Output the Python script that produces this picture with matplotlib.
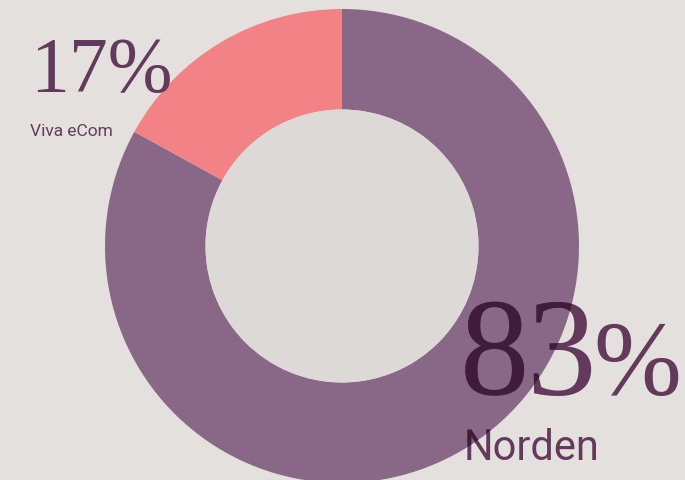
import matplotlib.pyplot as plt
from matplotlib.patches import Circle, PathPatch
from matplotlib.textpath import TextPath
from matplotlib.font_manager import FontProperties

# data
labels = ['Norden', 'Viva eCom']
shares = [83, 17]
colors = ['#886886', '#f28286']

bg = '#e4e0dd'
hole = '#ddd9d6'
txt = '#633a5c'
txt_dark = '#3e1c3a'

fig = plt.figure(figsize=(6.85, 4.81), dpi=100)
fig.patch.set_facecolor(bg)
ax = fig.add_axes([0, 0, 1, 1])

cx, cy = 342, 481 - 247
R = 237
wedges, _ = ax.pie(shares, colors=colors, startangle=90, counterclock=False,
                   center=(cx, cy), radius=R, frame=True,
                   wedgeprops=dict(width=R - 136.5, linewidth=0))
ax.set_xlim(0, 685)
ax.set_ylim(0, 481)
ax.axis('off')
ax.add_patch(Circle((cx, cy), 136.5, color=hole, lw=0, zorder=3))


def label(x, y, s, size, family, clip=None):
    ax.text(x, 481 - y, s, fontsize=size, family=family, color=txt,
            ha='left', va='baseline', zorder=5)
    if clip is not None:
        # darker where the text sits on the ring
        tp = TextPath((x, 481 - y), s, size=size * 100 / 72,
                      prop=FontProperties(family=family))
        pp = PathPatch(tp, color=txt_dark, lw=0, zorder=6)
        ax.add_patch(pp)
        pp.set_clip_path(clip)


serif = 'Liberation Serif'
sans = 'Roboto'

label(30, 91, f'{shares[1]}%', 56, serif)
label(30, 136, labels[1], 12.5, sans)

num = f'{shares[0]}'
label(460, 395, num[0], 100, serif, clip=wedges[0])
label(527, 395, num[1], 100, serif, clip=wedges[0])
label(593, 395, '%', 76, serif, clip=wedges[0])
label(464, 460, labels[0], 30, sans, clip=wedges[0])

fig.savefig('out.png', dpi=100, facecolor=bg)
